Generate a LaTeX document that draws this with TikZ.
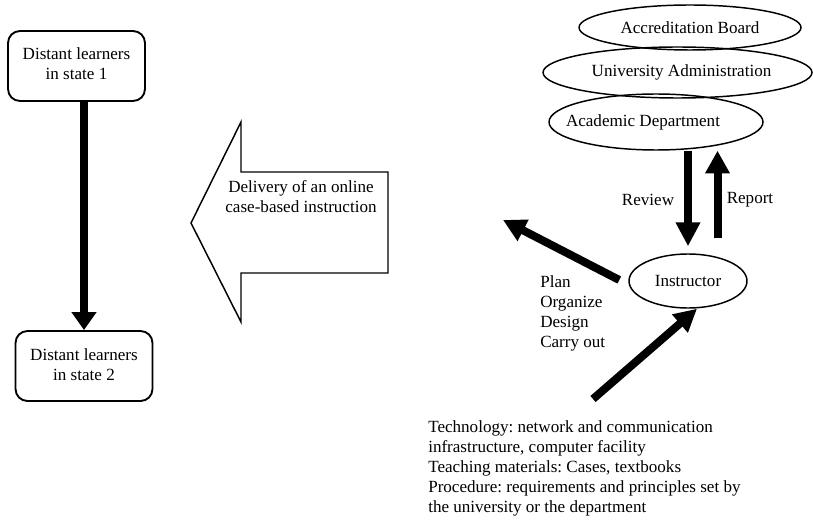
\documentclass[tikz,border=0pt]{standalone}
\usepackage{fontspec}
\setmainfont{Liberation Serif}
\usetikzlibrary{shapes.geometric,arrows.meta,calc}
\begin{document}
\begin{tikzpicture}[x=0.75pt,y=-0.75pt,
  every node/.style={font=\fontsize{12.8pt}{15pt}\selectfont\frenchspacing},
  learnerbox/.style={draw,line width=1.4pt,rounded corners=9pt,minimum width=102.75pt,minimum height=52.5pt,inner sep=0pt},
  oval/.style={draw,ellipse,line width=1.1pt,inner sep=0pt},
  fatarrow/.style={line width=6pt,-{Triangle[length=17pt,width=17pt]}},
  txt/.style={inner sep=0pt,align=left}
]
\useasboundingbox (0,0) rectangle (813,520);

% learner boxes
\node[learnerbox] (b1) at (76.5,66) {\raisebox{3pt}{\begin{tabular}{@{}c@{}}Distant learners\\in state 1\end{tabular}}};
\node[learnerbox] (b2) at (84,366) {\raisebox{3pt}{\begin{tabular}{@{}c@{}}Distant learners\\in state 2\end{tabular}}};
\draw[line width=6pt,-{Triangle[length=13.5pt,width=18pt]}] (b1.south -| b2.north) -- (b2.north);

% big delivery arrow
\draw[line width=1.1pt,line join=miter] (388,172) -- (241,172) -- (241,122) -- (191,223) -- (241,322) -- (241,273) -- (388,273) -- cycle;
\node[align=center,inner sep=0pt] (dlv) at (301,196.5) {Delivery of an online\\case-based instruction};

% ellipses
\node[oval,minimum width=166.5pt,minimum height=33.75pt] (ab) at (690,27.5) {Accreditation Board};
\node[oval,minimum width=201.75pt,minimum height=38.25pt] (ua) at (677.5,72.5) {\hspace*{6pt}University Administration};
\node[oval,minimum width=160.5pt,minimum height=42pt] (ad) at (656,122) {\hspace*{-19.5pt}Academic Department};
\node[oval,minimum width=88.5pt,minimum height=40.5pt] (ins) at (688,281) {Instructor};

% review / report
\draw[fatarrow,-{Triangle[length=18pt,width=17.5pt]}] (ins.north |- ad.south) -- ($(ins.north)+(0,-7)$);
\coordinate (rp) at ($(ins.north)+(29.5,-15)$);
\draw[fatarrow,-{Triangle[length=17pt,width=17.5pt]}] (rp) -- (rp |- ad.south);
\node (rev) at (648,200) {Review};
\node (rep) at (750,200) {Report};

% instructor to delivery
\coordinate (dl) at (503,220);
\draw[fatarrow] ($(ins.west)+(-9,-1)$) -- (dl);
\node[txt,anchor=west] (plan) at (540,313) {Plan\\Organize\\Design\\Carry out};

% resources to instructor
\coordinate (rs) at (593,399);
\draw[fatarrow] (rs) -- ($(ins.south)+(9,0)$);
\node[txt,anchor=west] (resrc) at (428,468) {Technology: network and communication\\infrastructure, computer facility\\Teaching materials: Cases, textbooks\\Procedure: requirements and principles set by\\the university or the department};
\end{tikzpicture}
\end{document}
